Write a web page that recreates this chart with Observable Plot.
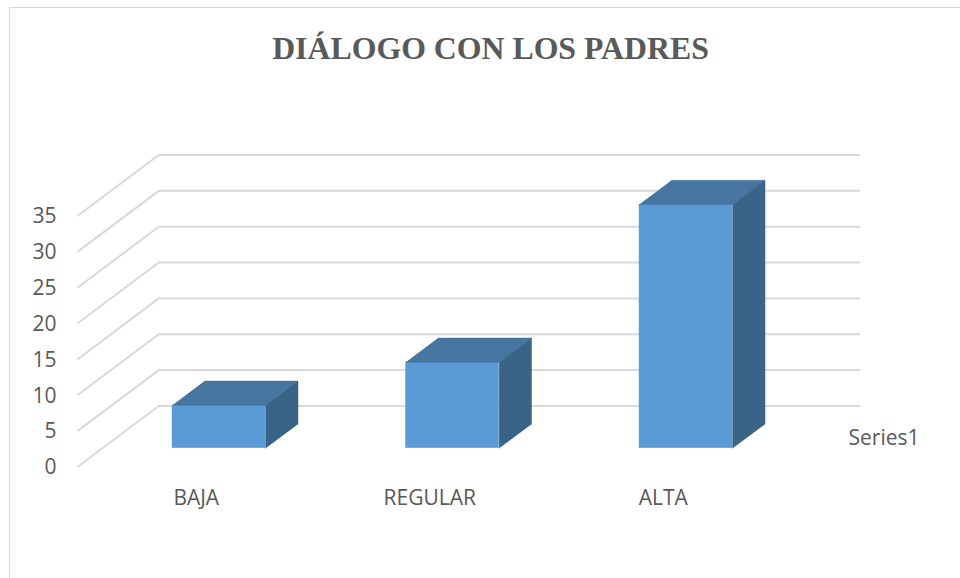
<!DOCTYPE html>
<html>
<head>
<meta charset="utf-8">
<script src="https://cdn.jsdelivr.net/npm/d3@7"></script>
<script src="https://cdn.jsdelivr.net/npm/@observablehq/plot@0.6"></script>
<style>
  html, body { margin: 0; padding: 0; background: #fff; overflow: hidden; width: 960px; height: 578px; }
  #frame { position: absolute; left: 9px; top: 7px; right: 0; bottom: 0; border-top: 1.5px solid #d9d9d9; border-left: 1.5px solid #d9d9d9; pointer-events: none; }
  #title { position: absolute; left: 0; top: 0; width: 981px; height: 90px; line-height: 97px; text-align: center; font-family: "Liberation Serif", serif; font-weight: bold; font-size: 31.8px; color: #595959; }
  #chart { position: absolute; left: 0; top: 90px; }
</style>
</head>
<body>
<div id="title">DIÁLOGO CON LOS PADRES</div>
<div id="chart"></div>
<div id="frame"></div>
<script>
const categories = ["BAJA", "REGULAR", "ALTA"];
const values = [6, 12, 34];
const yTicks = [0, 5, 10, 15, 20, 25, 30, 35];
const seriesName = "Series1";

// Oblique projection of the 3-D chart box, in scale units.
const depthX = 0.346;   // category units per full depth
const depthY = 8.44;    // value units per full depth
const barInset = 0.3;   // gap either side of a bar, as a share of a category
const d0 = 0.3, d1 = 0.7;

const project = (u, v, d) => ({x: u + d * depthX, y: v + d * depthY});

// Gridlines: side wall then back wall.
const gridRows = yTicks.flatMap((v) => [
  {...project(0, v, 0), v},
  {...project(0, v, 1), v},
  {...project(categories.length, v, 1), v}
]);

const faces = (fn) => values.flatMap((value, i) => fn(value, i).map((p) => ({...p, bar: categories[i]})));

const topFaces = faces((value, i) => {
  const a = i + barInset, b = i + 1 - barInset;
  return [project(a, value, d0), project(b, value, d0), project(b, value, d1), project(a, value, d1)];
});
const sideFaces = faces((value, i) => {
  const b = i + 1 - barInset;
  return [project(b, 0, d0), project(b, value, d0), project(b, value, d1), project(b, 0, d1)];
});
const frontFaces = values.map((value, i) => {
  const a = project(i + barInset, 0, d0), b = project(i + 1 - barInset, value, d0);
  return {x1: a.x, x2: b.x, y1: a.y, y2: b.y};
});

const chart = Plot.plot({
  width: 960,
  height: 488,
  marginLeft: 77.5,
  marginRight: 182,
  marginTop: 125,
  marginBottom: 112,
  style: {background: "transparent", fontFamily: "'Open Sans', sans-serif", fontSize: "21px", color: "#595959", overflow: "visible"},
  x: {type: "linear", domain: [0, categories.length]},
  y: {type: "linear", domain: [0, 35]},
  marks: [
    Plot.line(gridRows, {x: "x", y: "y", z: "v", stroke: "#d9d9d9", strokeWidth: 2}),
    Plot.rect(frontFaces, {x1: "x1", x2: "x2", y1: "y1", y2: "y2", fill: "#5b9bd5"}),
    Plot.line(topFaces, {x: "x", y: "y", z: "bar", fill: "#4675a0", stroke: "#4675a0", strokeWidth: 0.5}),
    Plot.line(sideFaces, {x: "x", y: "y", z: "bar", fill: "#396387", stroke: "#396387", strokeWidth: 0.5}),
    Plot.axisY({ticks: yTicks, tickSize: 0, tickPadding: 21.5, dy: 1, label: null, fill: "#595959", fontSize: 21, tickFormat: (d) => String(d)}),
    Plot.axisX({
      ticks: categories.map((_, i) => i + 0.5),
      tickFormat: (d) => categories[Math.floor(d)],
      tickSize: 0, tickPadding: 24, dx: 1.5, label: null, fill: "#595959", fontSize: 21
    }),
    Plot.text([seriesName], {frameAnchor: "right", textAnchor: "start", dx: 70, dy: 97, fill: "#595959", fontSize: 21})
  ]
});
document.getElementById("chart").appendChild(chart);
</script>
</body>
</html>
